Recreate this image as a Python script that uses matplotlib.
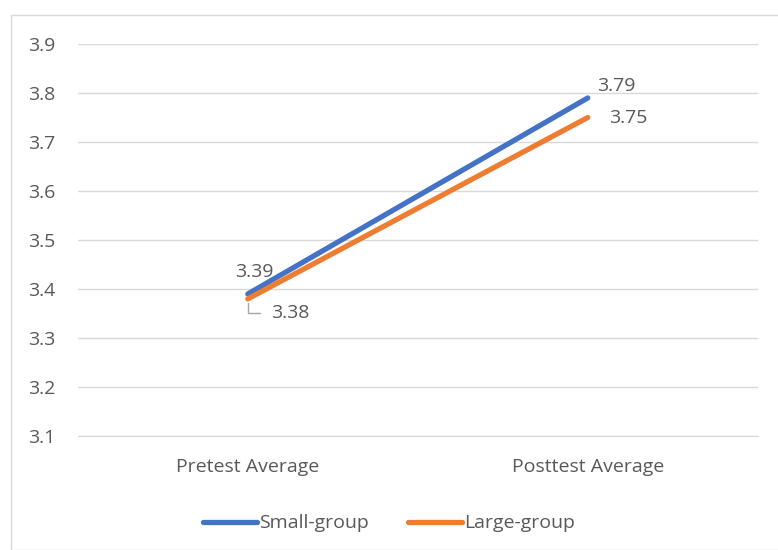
import matplotlib.pyplot as plt
from matplotlib.patches import Rectangle

categories = ['Pretest Average', 'Posttest Average']
small_group = [3.39, 3.79]
large_group = [3.38, 3.75]
y_ticks = [3.1, 3.2, 3.3, 3.4, 3.5, 3.6, 3.7, 3.8, 3.9]

blue = '#4472C4'
orange = '#ED7D31'
txt = '#595959'
fs = 14

plt.rcParams['font.family'] = ['Open Sans', 'DejaVu Sans']

fig = plt.figure(figsize=(7.78, 5.5), dpi=100)
ax = fig.add_axes([0.100, 0.207, 0.874, 0.713])

# chart border
fig.patches.append(Rectangle((11 / 778, 0), 1, 1 - 15 / 550, transform=fig.transFigure,
                             fill=False, edgecolor='#D9D9D9', linewidth=1))

x = [0, 1]
ax.plot(x, small_group, color=blue, linewidth=3.8, solid_capstyle='round', label='Small-group', zorder=3)
ax.plot(x, large_group, color=orange, linewidth=3.8, solid_capstyle='round', label='Large-group', zorder=3)

ax.set_xlim(-0.5, 1.5)
ax.set_ylim(3.1, 3.9)
ax.set_yticks(y_ticks)
ax.set_yticklabels([f'{v:.1f}' for v in y_ticks])
ax.set_xticks(x)
ax.set_xticklabels(categories)
ax.tick_params(axis='both', length=0, labelsize=fs, colors=txt)
ax.tick_params(axis='x', pad=16)
ax.tick_params(axis='y', pad=16)
ax.grid(axis='y', color='#D9D9D9', linewidth=1)
ax.set_axisbelow(True)
for s in ['top', 'right', 'left']:
    ax.spines[s].set_visible(False)
ax.spines['bottom'].set_color('#D9D9D9')

# data labels
ax.annotate(f'{small_group[0]:.2f}', (x[0], small_group[0]), xytext=(-9, 9),
            textcoords='offset points', ha='left', va='bottom', fontsize=fs, color=txt)
ax.annotate(f'{large_group[0]:.2f}', (x[0], large_group[0]), xytext=(17, -10),
            textcoords='offset points', ha='left', va='center', fontsize=fs, color=txt,
            arrowprops=dict(arrowstyle='-', color='#A6A6A6', lw=1,
                            connectionstyle='angle,angleA=0,angleB=90,rad=0',
                            shrinkA=6, shrinkB=3))
ax.annotate(f'{small_group[1]:.2f}', (x[1], small_group[1]), xytext=(7, 2),
            textcoords='offset points', ha='left', va='bottom', fontsize=fs, color=txt)
ax.annotate(f'{large_group[1]:.2f}', (x[1], large_group[1]), xytext=(15, 0),
            textcoords='offset points', ha='left', va='center', fontsize=fs, color=txt)

leg = fig.legend(loc='lower center', bbox_to_anchor=(0.5, 0.0), ncol=2, frameon=False,
                 fontsize=fs, handlelength=2.8, handletextpad=0.1, columnspacing=2.0)
for t in leg.get_texts():
    t.set_color(txt)

fig.savefig('out.png', dpi=100)
